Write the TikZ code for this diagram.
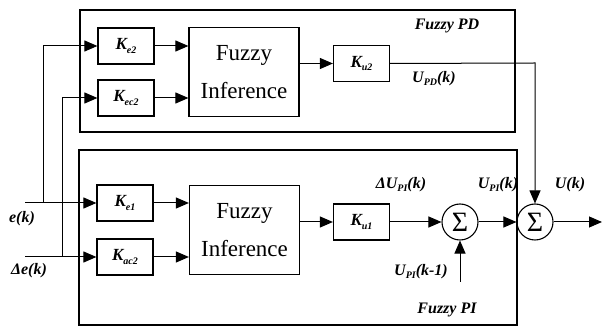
\documentclass[tikz,border=0pt]{standalone}
\usepackage{fontspec}
\setmainfont{Liberation Serif}
\usetikzlibrary{arrows.meta}
\newcommand\lsub[1]{\raisebox{-0.4ex}{\fontsize{10}{10}\selectfont #1}}
\begin{document}
\begin{tikzpicture}[x=1pt,y=-1pt,
  blk/.style={draw,line width=1.2pt,minimum width=56pt,minimum height=36pt,inner sep=0pt,font=\fontsize{17}{17}\selectfont\bfseries\itshape},
  fz/.style={draw,line width=1.2pt,minimum width=110pt,minimum height=89pt,inner sep=0pt,align=center,font=\fontsize{23}{38}\selectfont},
  sumn/.style={draw,circle,line width=1.1pt,minimum size=36pt,inner sep=0pt,font=\fontsize{28}{28}\selectfont},
  lbl/.style={font=\fontsize{16}{16}\selectfont\bfseries\itshape,inner sep=0pt},
  frame/.style={draw,line width=1.2pt},
  ln/.style={line width=1pt},
  arr/.style={ln,-{Triangle[length=13pt,width=11pt]}}]
\useasboundingbox (0,0) rectangle (603,328);
% frames
\draw[frame] (80,10) rectangle (515,132);
\draw[frame] (79,150) rectangle (517,325);
% blocks
\node[blk] (ke2) at (126,46) {K\lsub{e2}};
\node[blk] (kec2) at (126,98) {K\lsub{ec2}};
\node[fz] (fi1) at (244,72) {Fuzzy\\Inference};
\node[blk] (ku2) at (361.5,63.5) {K\lsub{u2}};
\node[blk] (ke1) at (125,203) {K\lsub{e1}};
\node[blk] (kac2) at (125,257) {K\lsub{ac2}};
\node[fz] (fi2) at (244.5,230) {Fuzzy\\Inference};
\node[blk] (ku1) at (361.5,222) {K\lsub{u1}};
\node[sumn] (s1) at (460,222) {Σ};
\node[sumn] (s2) at (535,222) {Σ};
% coordinates
\coordinate (ein) at (25,203);
\coordinate (dein) at (25,257);
\coordinate (eb) at (43,203);
\coordinate (deb) at (62,257);
\coordinate (upcorner) at (535,63);
\coordinate (out) at (602,222);
\coordinate (prev) at (460,282);
% connectors
\draw[arr] (ein) -- (ke1.west);
\draw[arr] (eb) |- (ke2.west);
\draw[arr] (dein) -- (kac2.west);
\draw[arr] (deb) |- (kec2.west);
\draw[arr] (ke2.east) -- (ke2.east -| fi1.west);
\draw[arr] (kec2.east) -- (kec2.east -| fi1.west);
\draw[arr] (ke1.east) -- (ke1.east -| fi2.west);
\draw[arr] (kac2.east) -- (kac2.east -| fi2.west);
\draw[arr] (fi1.east |- ku2.west) -- (ku2.west);
\draw[arr] (fi2.east |- ku1.west) -- (ku1.west);
\draw[arr] (ku2.east) -- (upcorner) -- (s2.north);
\draw[arr] (ku1.east) -- (s1.west);
\draw[arr] (s1.east) -- (s2.west);
\draw[arr] (s2.east) -- (out);
\draw[arr] (prev) -- (s1.south);
% labels
\node[lbl] (lpd) at (447,26) {Fuzzy PD};
\node[lbl] (lpi) at (447,310) {Fuzzy PI};
\node[lbl] (lupd) at (434,79) {U\lsub{PD}(k)};
\node[lbl] (le) at (22,219) {e(k)};
\node[lbl] (lde) at (29,271) {Δe(k)};
\node[lbl] (ldupi) at (401,185) {ΔU\lsub{PI}(k)};
\node[lbl] (lupi) at (498,185) {U\lsub{PI}(k)};
\node[lbl] (lu) at (570,185) {U(k)};
\node[lbl] (lupi1) at (421,272) {U\lsub{PI}(k-1)};
\end{tikzpicture}
\end{document}
